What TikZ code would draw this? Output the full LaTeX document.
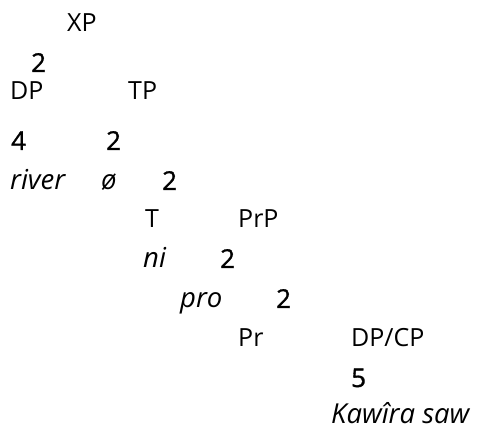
\documentclass[tikz,border=0pt]{standalone}
\usepackage{fontspec}
\setmainfont{Open Sans}
\newfontfamily\forkfont[FakeBold=1.2]{Open Sans}
\begin{document}
\begin{tikzpicture}[x=1pt,y=-1pt,
  lab/.style={anchor=base west, inner sep=0pt, font=\fontsize{25}{30}\selectfont},
  word/.style={lab, font=\fontsize{27.5}{30}\selectfont\itshape},
  fork/.style={lab, font=\fontsize{26}{30}\forkfont}]
\useasboundingbox (0,0) rectangle (482,430);

% Top
\node[lab] (xp) at (67,32) {XP};
\node[fork] (f1) at (31,72) {2};

% Specifier and TP
\node[lab] (dp) at (10,100) {DP};
\node[lab] (tp) at (128,100) {TP};
\node[fork] (f2) at (11,150) {4};
\node[fork] (f3) at (106,150) {2};
\node[word] (river) at (10,190) {river};
\node[word] (null) at (101,190) {ø};
\node[fork] (f4) at (162,190) {2};

% T and PrP
\node[lab] (t) at (145,228) {T};
\node[lab] (prp) at (238,228) {PrP};
\node[word] (ni) at (143,268) {ni};
\node[fork] (f5) at (220,268) {2};
\node[word] (pro) at (180,308) {pro};
\node[fork] (f6) at (276,308) {2};

% Pr and complement
\node[lab] (pr) at (238,347) {Pr};
\node[lab] (dpcp) at (351,347) {DP/CP};
\node[fork] (f7) at (351,387) {5};
\node[word] (kawira) at (331,423) {Kawîra saw};

\end{tikzpicture}
\end{document}
